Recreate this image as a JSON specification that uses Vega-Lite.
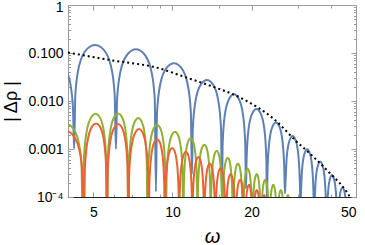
{
  "$schema": "https://vega.github.io/schema/vega-lite/v6.json",
  "width": 288,
  "height": 192,
  "autosize": "none",
  "padding": {"left": 68, "top": 5, "right": 9, "bottom": 48},
  "background": "white",
  "config": {
    "view": {"stroke": "#9a9a9a", "strokeWidth": 1},
    "font": "Liberation Sans"
  },
  "resolve": {"axis": {"x": "independent", "y": "independent"}},
  "datasets": {
    "blue": [
      {"w":3.85,"v":0.055},{"w":4.0,"v":0.035},{"w":4.1,"v":0.02},{"w":4.18,"v":0.0068},{"w":4.22,"v":0.001},
      {"w":4.267,"v":0.0138},{"w":4.41,"v":0.054},{"w":4.711,"v":0.119},{"w":5.07,"v":0.147},{"w":5.455,"v":0.119},{"w":5.827,"v":0.054},{"w":6.023,"v":0.0138},{"w":6.09,"v":0.001},
      {"w":6.154,"v":0.0112},{"w":6.352,"v":0.0438},{"w":6.766,"v":0.0963},{"w":7.258,"v":0.119},{"w":7.785,"v":0.0963},{"w":8.293,"v":0.0438},{"w":8.559,"v":0.0112},{"w":8.65,"v":0.00013},
      {"w":8.732,"v":0.00574},{"w":8.984,"v":0.0224},{"w":9.509,"v":0.0493},{"w":10.13,"v":0.061},{"w":10.79,"v":0.0493},{"w":11.42,"v":0.0224},{"w":11.75,"v":0.00574},{"w":11.86,"v":0.0003},
      {"w":11.95,"v":0.00258},{"w":12.24,"v":0.0101},{"w":12.83,"v":0.0222},{"w":13.53,"v":0.0274},{"w":14.26,"v":0.0222},{"w":14.95,"v":0.0101},{"w":15.31,"v":0.00258},{"w":15.43,"v":0.00008},
      {"w":15.53,"v":0.0013},{"w":15.82,"v":0.00508},{"w":16.44,"v":0.01116},{"w":17.14,"v":0.0138},{"w":17.88,"v":0.01116},{"w":18.57,"v":0.00508},{"w":18.93,"v":0.0013},{"w":19.05,"v":0.00015},
      {"w":19.16,"v":0.000643},{"w":19.47,"v":0.00251},{"w":20.13,"v":0.00553},{"w":20.89,"v":0.00683},{"w":21.67,"v":0.00553},{"w":22.4,"v":0.00251},{"w":22.77,"v":0.000643},{"w":22.9,"v":0.00008},
      {"w":23.01,"v":0.000336},{"w":23.34,"v":0.00131},{"w":24.01,"v":0.00289},{"w":24.77,"v":0.00357},{"w":25.57,"v":0.00289},{"w":26.3,"v":0.00131},{"w":26.68,"v":0.000336},{"w":26.8,"v":0.00012},
      {"w":26.91,"v":0.000175},{"w":27.24,"v":0.000684},{"w":27.91,"v":0.0015},{"w":28.68,"v":0.00186},{"w":29.47,"v":0.0015},{"w":30.2,"v":0.000684},{"w":30.58,"v":0.000175},{"w":30.7,"v":0.00005},
      {"w":30.81,"v":0.0000932},{"w":31.14,"v":0.000364},{"w":31.82,"v":0.0008},{"w":32.59,"v":0.00099},{"w":33.38,"v":0.0008},{"w":34.11,"v":0.000364},{"w":34.48,"v":0.0000932},{"w":34.6,"v":0.00003},
      {"w":34.71,"v":0.0000513},{"w":35.06,"v":0.0002},{"w":35.76,"v":0.000441},{"w":36.54,"v":0.000545},{"w":37.35,"v":0.000441},{"w":38.1,"v":0.0002},{"w":38.47,"v":0.0000513},{"w":38.6,"v":0.00002},
      {"w":38.71,"v":0.000027},{"w":39.05,"v":0.000106},{"w":39.73,"v":0.000232},{"w":40.5,"v":0.000287},{"w":41.29,"v":0.000232},{"w":42.01,"v":0.000106},{"w":42.38,"v":0.000027},{"w":42.5,"v":0.00001},
      {"w":42.61,"v":0.0000149},{"w":42.95,"v":0.0000581},{"w":43.63,"v":0.000128},{"w":44.41,"v":0.000158},{"w":45.19,"v":0.000128},{"w":45.91,"v":0.0000581},{"w":46.28,"v":0.0000149},{"w":46.4,"v":0.000005}
    ],
    "green": [
      {"w":3.9,"v":0.0032},{"w":4.0,"v":0.0032},{"w":4.22,"v":0.0025},{"w":4.4,"v":0.0013},{"w":4.5,"v":0.0005},{"w":4.56,"v":0.00002},
      {"w":4.603,"v":0.000675},{"w":4.721,"v":0.00245},{"w":4.935,"v":0.00481},{"w":5.095,"v":0.0054},{"w":5.256,"v":0.00481},{"w":5.47,"v":0.00245},{"w":5.587,"v":0.000675},{"w":5.63,"v":0.00002},
      {"w":5.676,"v":0.000688},{"w":5.804,"v":0.0025},{"w":6.036,"v":0.0049},{"w":6.21,"v":0.0055},{"w":6.384,"v":0.0049},{"w":6.616,"v":0.0025},{"w":6.744,"v":0.000688},{"w":6.79,"v":0.00002},
      {"w":6.84,"v":0.00055},{"w":6.976,"v":0.002},{"w":7.224,"v":0.00392},{"w":7.41,"v":0.0044},{"w":7.596,"v":0.00392},{"w":7.844,"v":0.002},{"w":7.98,"v":0.00055},{"w":8.03,"v":0.00002},
      {"w":8.086,"v":0.0004},{"w":8.242,"v":0.00145},{"w":8.524,"v":0.00285},{"w":8.735,"v":0.0032},{"w":8.947,"v":0.00285},{"w":9.229,"v":0.00145},{"w":9.384,"v":0.0004},{"w":9.44,"v":0.00002},
      {"w":9.502,"v":0.000288},{"w":9.674,"v":0.00104},{"w":9.986,"v":0.00205},{"w":10.22,"v":0.0023},{"w":10.454,"v":0.00205},{"w":10.766,"v":0.00104},{"w":10.938,"v":0.000288},{"w":11.0,"v":0.00002},
      {"w":11.058,"v":0.000209},{"w":11.218,"v":0.000758},{"w":11.508,"v":0.00149},{"w":11.725,"v":0.00167},{"w":11.943,"v":0.00149},{"w":12.233,"v":0.000758},{"w":12.392,"v":0.000209},{"w":12.45,"v":0.00002},
      {"w":12.511,"v":0.000154},{"w":12.68,"v":0.000558},{"w":12.986,"v":0.0011},{"w":13.215,"v":0.00123},{"w":13.445,"v":0.0011},{"w":13.751,"v":0.000558},{"w":13.919,"v":0.000154},{"w":13.98,"v":0.00002},
      {"w":14.04,"v":0.000115},{"w":14.205,"v":0.000418},{"w":14.505,"v":0.00082},{"w":14.73,"v":0.00092},{"w":14.955,"v":0.00082},{"w":15.255,"v":0.000418},{"w":15.42,"v":0.000115},{"w":15.48,"v":0.00002},
      {"w":15.54,"v":0.0000825},{"w":15.705,"v":0.0003},{"w":16.005,"v":0.000588},{"w":16.23,"v":0.00066},{"w":16.455,"v":0.000588},{"w":16.755,"v":0.0003},{"w":16.92,"v":0.0000825},{"w":16.98,"v":0.00002},
      {"w":17.042,"v":0.0000625},{"w":17.213,"v":0.000227},{"w":17.523,"v":0.000446},{"w":17.755,"v":0.0005},{"w":17.988,"v":0.000446},{"w":18.298,"v":0.000227},{"w":18.468,"v":0.0000625},{"w":18.53,"v":0.00002},
      {"w":18.594,"v":0.0000488},{"w":18.772,"v":0.000177},{"w":19.094,"v":0.000347},{"w":19.335,"v":0.00039},{"w":19.577,"v":0.000347},{"w":19.899,"v":0.000177},{"w":20.076,"v":0.0000488},{"w":20.14,"v":0.00002},
      {"w":20.203,"v":0.0000375},{"w":20.377,"v":0.000136},{"w":20.693,"v":0.000267},{"w":20.93,"v":0.0003},{"w":21.167,"v":0.000267},{"w":21.483,"v":0.000136},{"w":21.657,"v":0.0000375},{"w":21.72,"v":0.00002},
      {"w":21.785,"v":0.0000288},{"w":21.965,"v":0.000104},{"w":22.291,"v":0.000205},{"w":22.535,"v":0.00023},{"w":22.78,"v":0.000205},{"w":23.106,"v":0.000104},{"w":23.285,"v":0.0000288},{"w":23.35,"v":0.00002},
      {"w":23.418,"v":0.0000225},{"w":23.605,"v":0.0000817},{"w":23.945,"v":0.00016},{"w":24.2,"v":0.00018},{"w":24.455,"v":0.00016},{"w":24.795,"v":0.0000817},{"w":24.982,"v":0.0000225},{"w":25.05,"v":0.00001},
      {"w":25.116,"v":0.0000175},{"w":25.298,"v":0.0000636},{"w":25.628,"v":0.000125},{"w":25.875,"v":0.00014},{"w":26.123,"v":0.000125},{"w":26.453,"v":0.0000636},{"w":26.634,"v":0.0000175},{"w":26.7,"v":0.00001},
      {"w":26.764,"v":0.0000138},{"w":26.94,"v":0.00005},{"w":27.26,"v":0.000098},{"w":27.5,"v":0.00011},{"w":27.74,"v":0.000098},{"w":28.06,"v":0.00005},{"w":28.236,"v":0.0000138},{"w":28.3,"v":0.00001}
    ],
    "orange": [
      {"w":3.9,"v":0.0023},{"w":4.0,"v":0.0023},{"w":4.22,"v":0.0018},{"w":4.42,"v":0.00095},{"w":4.53,"v":0.00035},{"w":4.6,"v":0.00002},
      {"w":4.641,"v":0.000425},{"w":4.755,"v":0.00154},{"w":4.961,"v":0.00303},{"w":5.115,"v":0.0034},{"w":5.27,"v":0.00303},{"w":5.476,"v":0.00154},{"w":5.589,"v":0.000425},{"w":5.63,"v":0.00002},
      {"w":5.676,"v":0.000413},{"w":5.804,"v":0.0015},{"w":6.036,"v":0.00294},{"w":6.21,"v":0.0033},{"w":6.384,"v":0.00294},{"w":6.616,"v":0.0015},{"w":6.744,"v":0.000413},{"w":6.79,"v":0.00002},
      {"w":6.843,"v":0.000325},{"w":6.99,"v":0.00118},{"w":7.256,"v":0.00232},{"w":7.455,"v":0.0026},{"w":7.655,"v":0.00232},{"w":7.921,"v":0.00118},{"w":8.067,"v":0.000325},{"w":8.12,"v":0.00002},
      {"w":8.169,"v":0.0002},{"w":8.305,"v":0.000726},{"w":8.551,"v":0.00143},{"w":8.735,"v":0.0016},{"w":8.92,"v":0.00143},{"w":9.166,"v":0.000726},{"w":9.301,"v":0.0002},{"w":9.35,"v":0.00002},
      {"w":9.4,"v":0.000131},{"w":9.538,"v":0.000477},{"w":9.788,"v":0.000936},{"w":9.975,"v":0.00105},{"w":10.163,"v":0.000936},{"w":10.413,"v":0.000477},{"w":10.55,"v":0.000131},{"w":10.6,"v":0.00002},
      {"w":10.652,"v":0.00011},{"w":10.795,"v":0.0004},{"w":11.055,"v":0.000784},{"w":11.25,"v":0.00088},{"w":11.445,"v":0.000784},{"w":11.705,"v":0.0004},{"w":11.848,"v":0.00011},{"w":11.9,"v":0.00002},
      {"w":11.952,"v":0.000085},{"w":12.095,"v":0.000309},{"w":12.355,"v":0.000606},{"w":12.55,"v":0.00068},{"w":12.745,"v":0.000606},{"w":13.005,"v":0.000309},{"w":13.148,"v":0.000085},{"w":13.2,"v":0.00002},
      {"w":13.254,"v":0.0000625},{"w":13.403,"v":0.000227},{"w":13.673,"v":0.000446},{"w":13.875,"v":0.0005},{"w":14.078,"v":0.000446},{"w":14.348,"v":0.000227},{"w":14.496,"v":0.0000625},{"w":14.55,"v":0.00002},
      {"w":14.606,"v":0.00005},{"w":14.76,"v":0.000182},{"w":15.04,"v":0.000356},{"w":15.25,"v":0.0004},{"w":15.46,"v":0.000356},{"w":15.74,"v":0.000182},{"w":15.894,"v":0.00005},{"w":15.95,"v":0.00002},
      {"w":16.006,"v":0.0000375},{"w":16.16,"v":0.000136},{"w":16.44,"v":0.000267},{"w":16.65,"v":0.0003},{"w":16.86,"v":0.000267},{"w":17.14,"v":0.000136},{"w":17.294,"v":0.0000375},{"w":17.35,"v":0.00001},
      {"w":17.41,"v":0.0000288},{"w":17.575,"v":0.000104},{"w":17.875,"v":0.000205},{"w":18.1,"v":0.00023},{"w":18.325,"v":0.000205},{"w":18.625,"v":0.000104},{"w":18.79,"v":0.0000288},{"w":18.85,"v":0.00001},
      {"w":18.906,"v":0.0000225},{"w":19.06,"v":0.0000817},{"w":19.34,"v":0.00016},{"w":19.55,"v":0.00018},{"w":19.76,"v":0.00016},{"w":20.04,"v":0.0000817},{"w":20.194,"v":0.0000225},{"w":20.25,"v":0.00001},
      {"w":20.306,"v":0.0000175},{"w":20.46,"v":0.0000636},{"w":20.74,"v":0.000125},{"w":20.95,"v":0.00014},{"w":21.16,"v":0.000125},{"w":21.44,"v":0.0000636},{"w":21.594,"v":0.0000175},{"w":21.65,"v":0.00001},
      {"w":21.706,"v":0.0000138},{"w":21.86,"v":0.00005},{"w":22.14,"v":0.000098},{"w":22.35,"v":0.00011},{"w":22.56,"v":0.000098},{"w":22.84,"v":0.00005},{"w":22.994,"v":0.0000138},{"w":23.05,"v":0.00001}
    ],
    "env": [
      {"w":4.0,"v":0.1024},{"w":5.78,"v":0.0715},{"w":8.96,"v":0.0475},{"w":11.06,"v":0.0321},{"w":13.69,"v":0.0215},{"w":18.34,"v":0.01138},{"w":24.57,"v":0.00402},{"w":29.72,"v":0.00142},{"w":34.38,"v":0.000691},{"w":39.79,"v":0.000312},{"w":46.06,"v":0.000129},{"w":47.42,"v":0.000101},{"w":48.7,"v":0.0000826}
    ]
  },
  "layer": [
    {
      "encoding": {
        "x": {
          "field": "w", "type": "quantitative",
          "scale": {"type": "log", "domain": [4, 50], "nice": false},
          "axis": {
            "values": [5, 6, 7, 8, 9, 10, 15, 20, 30, 40, 50],
            "labelExpr": "indexof([5, 10, 20, 50], datum.value) >= 0 ? format(datum.value, 'd') : ''",
            "title": "ω", "titleFont": "Liberation Sans", "titleFontStyle": "italic", "titleFontWeight": "normal", "titleFontSize": 20, "titleColor": "black", "titlePadding": 7,
            "labelFontSize": 14, "labelColor": "black", "labelPadding": 13,
            "grid": false, "domain": true, "domainColor": "#222", "domainWidth": 1,
            "ticks": true, "tickSize": {"condition": {"test": "indexof([5, 10, 20, 50], datum.value) >= 0", "value": -5}, "value": -3}, "tickColor": "#9a9a9a"
          }
        },
        "y": {
          "field": "v", "type": "quantitative",
          "scale": {"type": "log", "domain": [0.0001, 1], "nice": false},
          "axis": {
            "values": [0.0001, 0.0002, 0.0003, 0.0004, 0.0005, 0.0006, 0.0007, 0.0008, 0.0009, 0.001, 0.002, 0.003, 0.004, 0.005, 0.006, 0.007, 0.008, 0.009, 0.01, 0.02, 0.03, 0.04, 0.05, 0.06, 0.07, 0.08, 0.09, 0.1, 0.2, 0.3, 0.4, 0.5, 0.6, 0.7, 0.8, 0.9, 1],
            "labelExpr": "indexof([0.0001, 0.001, 0.01, 0.1, 1], datum.value) < 0 ? '' : datum.value >= 0.5 ? '1' : datum.value >= 0.0005 ? format(datum.value, '.3f') : '10⁻⁴'",
            "labelOffset": {"condition": {"test": "datum.value >= 0.95", "value": 2}, "value": 0},
            "title": "|  Δρ  |", "titleFont": "Liberation Sans", "titleFontWeight": "normal", "titleFontSize": 18, "titleColor": "black", "titlePadding": 7,
            "labelFontSize": 14, "labelColor": "black", "labelPadding": 10,
            "grid": false, "domain": false,
            "ticks": true, "tickSize": {"condition": {"test": "indexof([0.0001, 0.001, 0.01, 0.1, 1], datum.value) >= 0", "value": -5}, "value": -2.5}, "tickColor": "#9a9a9a"
          }
        }
      },
      "layer": [
        {"data": {"name": "blue"}, "mark": {"type": "line", "color": "#5E81B5", "strokeWidth": 2, "interpolate": "monotone", "clip": true}},
        {"data": {"name": "green"}, "mark": {"type": "line", "color": "#8FB032", "strokeWidth": 2, "interpolate": "monotone", "clip": true}},
        {"data": {"name": "orange"}, "mark": {"type": "line", "color": "#EB6235", "strokeWidth": 2, "interpolate": "monotone", "clip": true}}
      ]
    },
    {
      "data": {"name": "env"},
      "mark": {"type": "line", "color": "black", "strokeWidth": 2, "strokeDash": [2, 3], "interpolate": "monotone", "clip": true},
      "encoding": {
        "x": {"field": "w", "type": "quantitative", "axis": {"orient": "top", "values": [5, 6, 7, 8, 9, 10, 15, 20, 30, 40, 50], "labels": false, "title": null, "domain": false, "grid": false, "ticks": true, "tickSize": {"condition": {"test": "indexof([5, 10, 20, 50], datum.value) >= 0", "value": -5}, "value": -3}, "tickColor": "#9a9a9a"}},
        "y": {"field": "v", "type": "quantitative", "axis": {"orient": "right", "values": [0.0001, 0.0002, 0.0003, 0.0004, 0.0005, 0.0006, 0.0007, 0.0008, 0.0009, 0.001, 0.002, 0.003, 0.004, 0.005, 0.006, 0.007, 0.008, 0.009, 0.01, 0.02, 0.03, 0.04, 0.05, 0.06, 0.07, 0.08, 0.09, 0.1, 0.2, 0.3, 0.4, 0.5, 0.6, 0.7, 0.8, 0.9, 1], "labels": false, "title": null, "domain": false, "grid": false, "ticks": true, "tickSize": {"condition": {"test": "indexof([0.0001, 0.001, 0.01, 0.1, 1], datum.value) >= 0", "value": -5}, "value": -2.5}, "tickColor": "#9a9a9a"}}
      }
    }
  ]
}
